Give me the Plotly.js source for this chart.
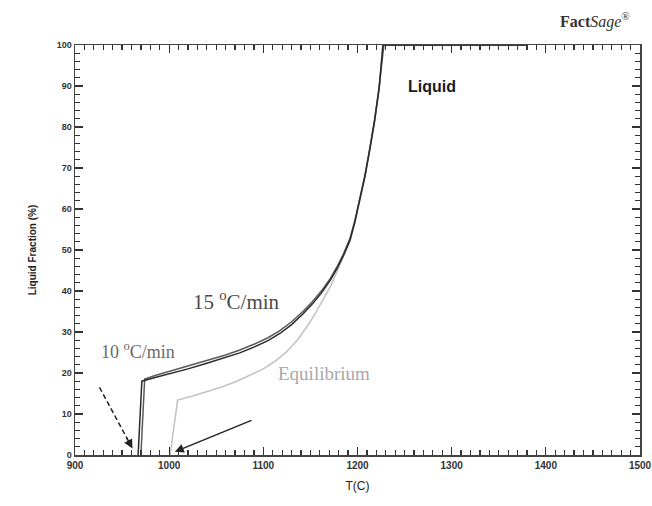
<!DOCTYPE html>
<html>
<head>
<meta charset="utf-8">
<script src="https://cdn.plot.ly/plotly-3.0.1.min.js"></script>
<style>html,body{margin:0;padding:0;background:#fff}#chart{width:652px;height:506px}</style>
</head>
<body>
<div id="chart"></div>
<script>
// Temperatures (°C) and liquid fraction (%)
const tRate10 = [967, 971, 985, 1000, 1020, 1040, 1060, 1075, 1090, 1105, 1118, 1130, 1142, 1152, 1162, 1171, 1178, 1185, 1192, 1197, 1202, 1208, 1213, 1218, 1223, 1227, 1300, 1380];
const fRate10 = [0, 18.0, 18.9, 19.8, 21.0, 22.4, 23.8, 24.9, 26.3, 27.9, 29.7, 31.8, 34.4, 36.8, 39.6, 42.6, 45.4, 48.6, 52.4, 56.6, 61.8, 68.0, 74.4, 81.2, 89.5, 100, 100, 100];

const tRate15 = [970, 974, 985, 1000, 1020, 1040, 1060, 1075, 1090, 1105, 1118, 1130, 1142, 1152, 1162, 1171, 1178, 1185, 1192, 1197, 1202, 1208, 1213, 1218, 1223, 1228, 1300, 1380];
const fRate15 = [0, 18.5, 19.4, 20.4, 21.6, 23.0, 24.4, 25.6, 27.0, 28.6, 30.4, 32.5, 35.0, 37.4, 40.1, 43.0, 45.8, 49.0, 52.8, 57.0, 62.2, 68.4, 74.8, 81.6, 89.8, 100, 100, 100];

const tEquil = [1001, 1009, 1025, 1040, 1055, 1070, 1085, 1100, 1112, 1124, 1136, 1146, 1155, 1163, 1171, 1178, 1185, 1192, 1197, 1202, 1208, 1213, 1218, 1223, 1227, 1300, 1380];
const fEquil = [0, 13.4, 14.4, 15.4, 16.5, 17.8, 19.4, 21.0, 22.8, 25.0, 28.0, 31.2, 34.4, 37.6, 41.0, 44.6, 48.2, 52.2, 56.6, 61.8, 68.0, 74.4, 81.2, 89.5, 100, 100, 100];

// Axis ticks
const xRange = [900, 1500], xMajor = 100, xMinor = 10;
const yRange = [0, 100], yMajor = 10, yMinor = 2;

// Arrow positions [tailT, tailF, headT, headF]
const dashedArrow = [926, 16.5, 961, 1.6];
const solidArrow = [1089, 8.6, 1006, 0.8];

const traces = [
  {x: tEquil, y: fEquil, mode: 'lines', line: {color: '#c4c4c4', width: 1.6}, hoverinfo: 'skip'},
  {x: tRate15, y: fRate15, mode: 'lines', line: {color: '#5a5a5a', width: 1.5}, hoverinfo: 'skip'},
  {x: tRate10, y: fRate10, mode: 'lines', line: {color: '#2a2a2a', width: 1.5}, hoverinfo: 'skip'},
  {x: [dashedArrow[0], dashedArrow[0] + (dashedArrow[2]-dashedArrow[0])*0.85],
   y: [dashedArrow[1], dashedArrow[1] + (dashedArrow[3]-dashedArrow[1])*0.85],
   mode: 'lines', line: {color: '#222', width: 1.5, dash: '5px,3px'}, hoverinfo: 'skip'}
];

const serif = 'Liberation Serif, Times New Roman, serif';
const sans = 'Liberation Sans, Arial, sans-serif';
const layout = {
  width: 652, height: 506,
  margin: {l: 75, r: 12, t: 45, b: 51},
  paper_bgcolor: '#fff', plot_bgcolor: '#fff',
  showlegend: false,
  xaxis: {
    range: xRange, tickmode: 'linear', tick0: xRange[0], dtick: xMajor,
    ticks: 'inside', ticklen: 8, tickcolor: '#333', tickwidth: 1.3, mirror: 'ticks',
    showline: true, linecolor: '#444', linewidth: 1.5, showgrid: false, zeroline: false,
    minor: {tickmode: 'linear', tick0: xRange[0], dtick: xMinor, ticks: 'inside', ticklen: 5, tickwidth: 1.2, tickcolor: '#333', showgrid: false},
    tickfont: {family: sans, size: 10, color: '#333', weight: 'bold'},
    title: {text: 'T(C)', font: {family: sans, size: 12, color: '#222'}, standoff: 12}
  },
  yaxis: {
    range: yRange, tickmode: 'linear', tick0: yRange[0], dtick: yMajor,
    ticks: 'inside', ticklen: 8, tickcolor: '#333', tickwidth: 1.3, mirror: 'ticks',
    showline: true, linecolor: '#444', linewidth: 1.5, showgrid: false, zeroline: false,
    minor: {tickmode: 'linear', tick0: yRange[0], dtick: yMinor, ticks: 'inside', ticklen: 5, tickwidth: 1.2, tickcolor: '#333', showgrid: false},
    tickfont: {family: sans, size: 9, color: '#333', weight: 'bold'},
    title: {text: 'Liquid Fraction (%)', font: {family: sans, size: 10, color: '#222', weight: 'bold'}, standoff: 18}
  },
  annotations: [
    {x: 1279, y: 90, xref: 'x', yref: 'y', text: '<b>Liquid</b>', showarrow: false,
     font: {family: sans, size: 16, color: '#1a1a1a'}},
    {x: 1072, y: 37.8, xref: 'x', yref: 'y', text: '15 <sup>o</sup>C/min', showarrow: false,
     font: {family: serif, size: 21, color: '#4a4a4a'}},
    {x: 967, y: 25.6, xref: 'x', yref: 'y', text: '10 <sup>o</sup>C/min', showarrow: false,
     font: {family: serif, size: 18, color: '#6a6a6a'}},
    {x: 1164, y: 20, xref: 'x', yref: 'y', text: 'Equilibrium', showarrow: false,
     font: {family: serif, size: 19, color: '#a8a8a8'}},
    {x: dashedArrow[2], y: dashedArrow[3], xref: 'x', yref: 'y',
     ax: dashedArrow[2] - (dashedArrow[2]-dashedArrow[0])*0.2, ay: dashedArrow[3] - (dashedArrow[3]-dashedArrow[1])*0.2,
     axref: 'x', ayref: 'y', showarrow: true, arrowhead: 2, arrowsize: 1.2, arrowwidth: 1.5, arrowcolor: '#222', text: ''},
    {x: solidArrow[2], y: solidArrow[3], xref: 'x', yref: 'y',
     ax: solidArrow[0], ay: solidArrow[1], axref: 'x', ayref: 'y',
     showarrow: true, arrowhead: 2, arrowsize: 1.2, arrowwidth: 1.5, arrowcolor: '#222', text: ''},
    {x: 0.985, y: 1.09, xref: 'paper', yref: 'paper', xanchor: 'right', text: '<b>Fact</b><i>Sage</i><sup>®</sup>', showarrow: false,
     font: {family: serif, size: 16, color: '#333'}}
  ]
};

Plotly.newPlot('chart', traces, layout, {staticPlot: true, displayModeBar: false});
</script>
</body>
</html>
